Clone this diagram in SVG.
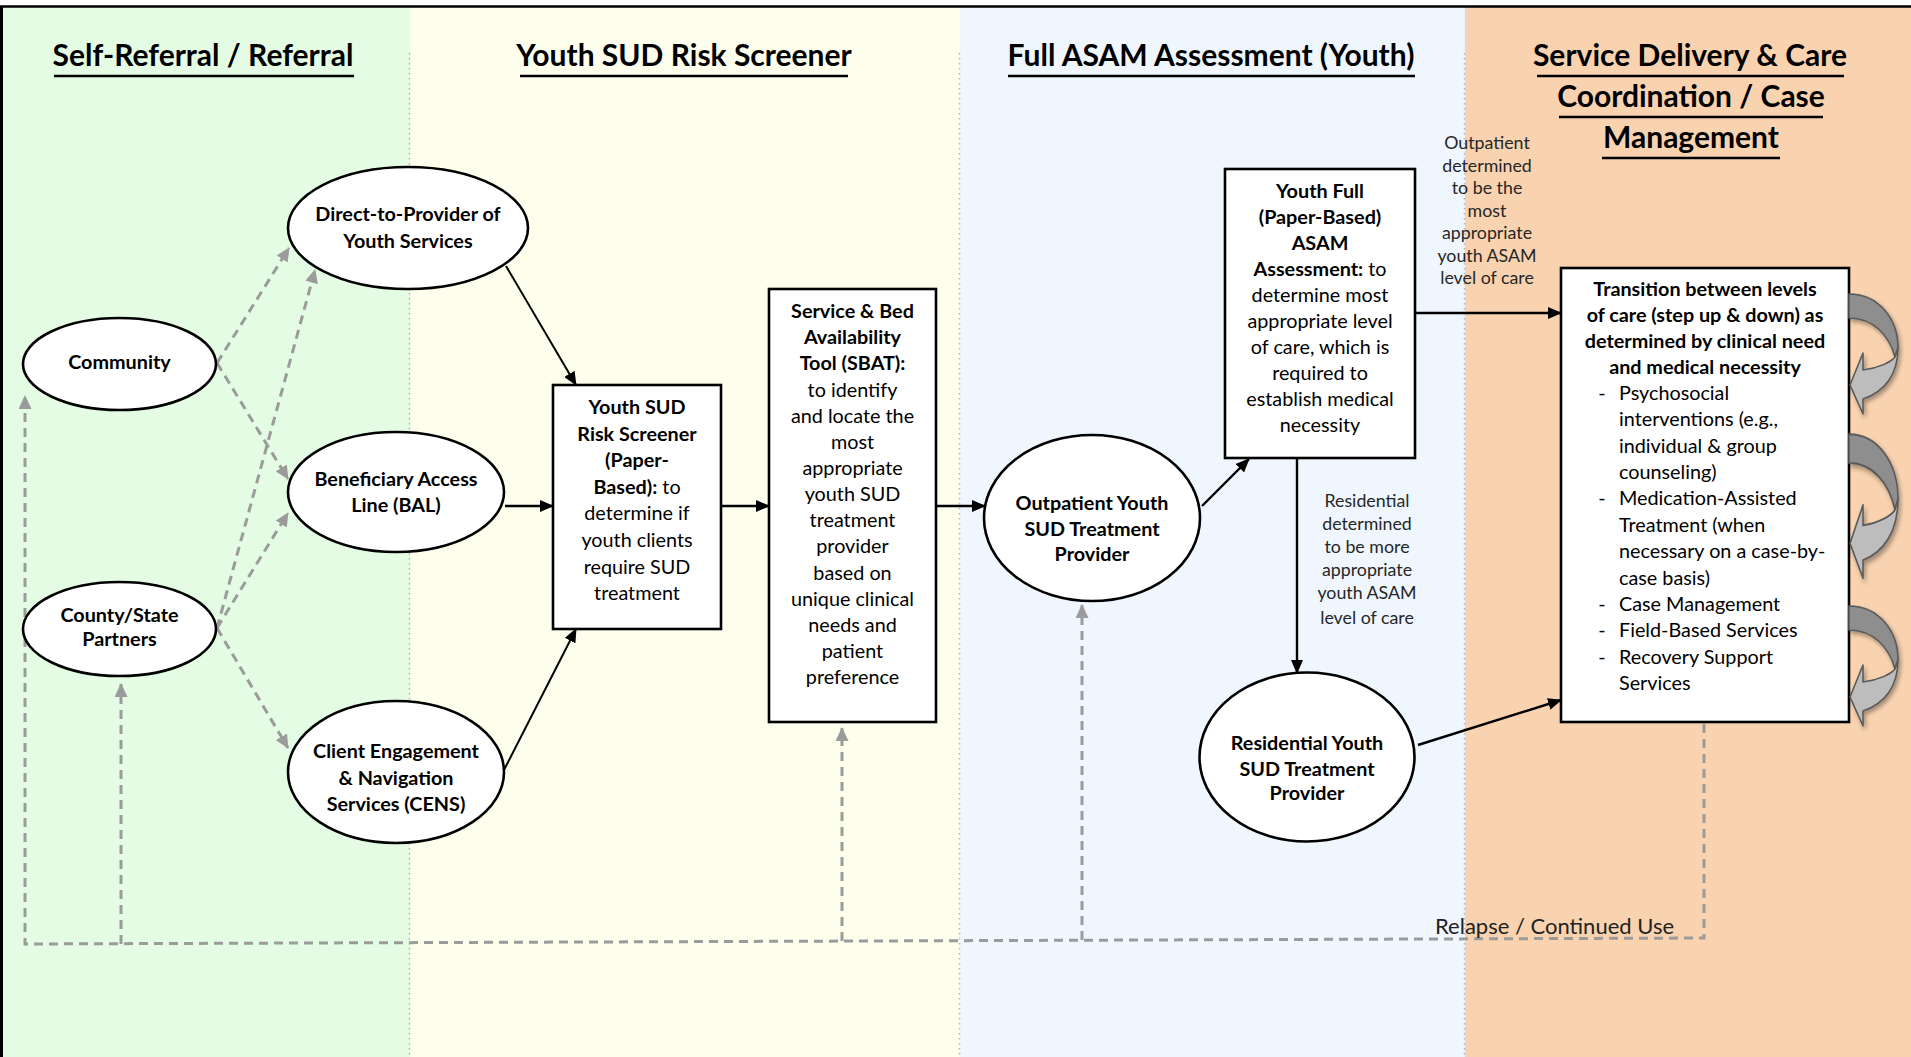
<svg xmlns="http://www.w3.org/2000/svg" width="1911" height="1057" viewBox="0 0 1911 1057">
<style>
.t{font-family:Lato,'Open Sans','DejaVu Sans',sans-serif;fill:#000;text-anchor:middle}
.h{font-size:30px;font-weight:bold}
.n{font-size:19.8px}
.b{font-weight:bold}
.s{font-size:17.8px;fill:#262626}
.l{text-anchor:start}
.node{fill:#fff;stroke:#000;stroke-width:2.6}
.ul{stroke:#000;stroke-width:2.5}
.sep{stroke:#b4b4b4;stroke-width:1.5;stroke-dasharray:1.5 3.5}
.c{fill:none;stroke:#000;stroke-width:2.4;marker-end:url(#ah)}
.d{fill:none;stroke:#9b9b9b;stroke-width:3;stroke-dasharray:9 6;marker-end:url(#ag)}
</style>
<defs>
<marker id="ah" viewBox="0 0 14 12" markerWidth="14" markerHeight="12" refX="13" refY="6" orient="auto" markerUnits="userSpaceOnUse"><path d="M0,0 L14,6 L0,12 Z" fill="#000"/></marker>
<marker id="ag" viewBox="0 0 14 13" markerWidth="14" markerHeight="13" refX="13" refY="6.5" orient="auto" markerUnits="userSpaceOnUse"><path d="M0,0 L14,6.5 L0,13 Z" fill="#9b9b9b"/></marker>
<filter id="sh" x="-30%" y="-20%" width="160%" height="150%"><feDropShadow dx="2" dy="3" stdDeviation="2" flood-color="#000" flood-opacity="0.35"/></filter>
<g id="curl" filter="url(#sh)" stroke="#5a5a5a" stroke-width="1.6" stroke-linejoin="round">
<path d="M0,1 C29,1 49,25 49,55 L46,64 C40,42 24,25 0,25 Z" fill="#8e8e8e"/>
<path d="M49,55 C49,82 35,99 14,106 L14,121 L1,92 L14,60 L14,77 C30,75 42,69 46,64 Z" fill="#bdbdbd"/>
</g>
</defs>

<g id="lanes">
<rect x="0" y="0" width="1911" height="1057" fill="#fff"/>
<rect x="0" y="7" width="410" height="1050" fill="#e3fce3"/>
<rect x="410" y="7" width="550" height="1050" fill="#fdfeec"/>
<rect x="960" y="7" width="505" height="1050" fill="#eff6fe"/>
<rect x="1465" y="7" width="446" height="1050" fill="#f9d3b0"/>
<line class="sep" x1="409.5" y1="53" x2="409.5" y2="1057"/>
<line class="sep" x1="959.5" y1="53" x2="959.5" y2="1057"/>
<line class="sep" x1="1464.5" y1="53" x2="1464.5" y2="1057"/>
<line x1="0" y1="6.5" x2="1911" y2="6.5" stroke="#000" stroke-width="2.5"/>
<line x1="1.5" y1="6" x2="1.5" y2="1057" stroke="#000" stroke-width="3"/>
</g>

<g id="headers">
<text class="t h" x="203" y="66">Self-Referral / Referral</text>
<line class="ul" x1="54" y1="76" x2="354" y2="76"/>
<text class="t h" x="684" y="66">Youth SUD Risk Screener</text>
<line class="ul" x1="520" y1="76" x2="848" y2="76"/>
<text class="t h" x="1211" y="66">Full ASAM Assessment (Youth)</text>
<line class="ul" x1="1008" y1="76" x2="1415" y2="76"/>
<text class="t h" x="1690" y="66">Service Delivery &amp; Care</text>
<line class="ul" x1="1537" y1="76" x2="1844" y2="76"/>
<text class="t h" x="1691" y="107">Coordination / Case</text>
<line class="ul" x1="1559" y1="117" x2="1823" y2="117"/>
<text class="t h" x="1691" y="148">Management</text>
<line class="ul" x1="1602" y1="158" x2="1780" y2="158"/>
</g>

<g id="connectors">
<path class="d" d="M217,363 L289,248"/>
<path class="d" d="M217,363 L288,479"/>
<path class="d" d="M217,628 L315,270"/>
<path class="d" d="M217,628 L288,513"/>
<path class="d" d="M217,628 L288,748"/>
<path class="d" d="M1704,724 L1704,938 L25,944 L25,396"/>
<path class="d" d="M121,944 L121,684"/>
<path class="d" d="M842,941 L842,728"/>
<path class="d" d="M1082,940 L1082,605"/>
<path class="c" style="stroke-width:2" d="M506,266 L576,385"/>
<path class="c" d="M505,506 L553,506"/>
<path class="c" style="stroke-width:2" d="M504,770 L576,629"/>
<path class="c" d="M721,506 L769,506"/>
<path class="c" d="M936,506 L985,506"/>
<path class="c" d="M1202,506 L1249,459"/>
<path class="c" d="M1416,313 L1561,313"/>
<path class="c" d="M1297,458 L1297,673"/>
<path class="c" d="M1418,745 L1561,700"/>
</g>

<g id="community">
<ellipse class="node" cx="119.5" cy="364" rx="96.5" ry="46"/>
<text class="t n b" x="119.5" y="369">Community</text>
</g>
<g id="county">
<ellipse class="node" cx="119.5" cy="629" rx="96.5" ry="47"/>
<text class="t n b" x="119.5" y="622">County/State</text>
<text class="t n b" x="119.5" y="646">Partners</text>
</g>
<g id="direct">
<ellipse class="node" cx="408" cy="228" rx="120" ry="61"/>
<text class="t n b" x="408" y="221">Direct-to-Provider of</text>
<text class="t n b" x="408" y="248">Youth Services</text>
</g>
<g id="bal">
<ellipse class="node" cx="396" cy="492" rx="108" ry="60"/>
<text class="t n b" x="396" y="486">Beneficiary Access</text>
<text class="t n b" x="396" y="512">Line (BAL)</text>
</g>
<g id="cens">
<ellipse class="node" cx="396" cy="772" rx="108" ry="71"/>
<text class="t n b" x="396" y="758">Client Engagement</text>
<text class="t n b" x="396" y="785">&amp; Navigation</text>
<text class="t n b" x="396" y="811">Services (CENS)</text>
</g>
<g id="screener">
<rect class="node" x="553" y="385" width="168" height="244"/>
<text class="t n" x="637" y="414"><tspan class="b">Youth SUD</tspan></text>
<text class="t n" x="637" y="440.6"><tspan class="b">Risk Screener</tspan></text>
<text class="t n" x="637" y="467.2"><tspan class="b">(Paper-</tspan></text>
<text class="t n" x="637" y="493.8"><tspan class="b">Based):</tspan> to</text>
<text class="t n" x="637" y="520.4">determine if</text>
<text class="t n" x="637" y="547">youth clients</text>
<text class="t n" x="637" y="573.6">require SUD</text>
<text class="t n" x="637" y="600.2">treatment</text>
</g>
<g id="sbat">
<rect class="node" x="769" y="289" width="167" height="433"/>
<text class="t n b" x="852.5" y="318">Service &amp; Bed</text>
<text class="t n b" x="852.5" y="344.2">Availability</text>
<text class="t n b" x="852.5" y="370.3">Tool (SBAT):</text>
<text class="t n" x="852.5" y="396.5">to identify</text>
<text class="t n" x="852.5" y="422.6">and locate the</text>
<text class="t n" x="852.5" y="448.8">most</text>
<text class="t n" x="852.5" y="474.9">appropriate</text>
<text class="t n" x="852.5" y="501">youth SUD</text>
<text class="t n" x="852.5" y="527.2">treatment</text>
<text class="t n" x="852.5" y="553.4">provider</text>
<text class="t n" x="852.5" y="579.5">based on</text>
<text class="t n" x="852.5" y="605.6">unique clinical</text>
<text class="t n" x="852.5" y="631.8">needs and</text>
<text class="t n" x="852.5" y="658">patient</text>
<text class="t n" x="852.5" y="684">preference</text>
</g>
<g id="outpatient">
<ellipse class="node" cx="1092" cy="518" rx="108" ry="83"/>
<text class="t n b" x="1092" y="510">Outpatient Youth</text>
<text class="t n b" x="1092" y="535.5">SUD Treatment</text>
<text class="t n b" x="1092" y="561">Provider</text>
</g>
<g id="asam">
<rect class="node" x="1225" y="169" width="190" height="289"/>
<text class="t n b" x="1320" y="198">Youth Full</text>
<text class="t n b" x="1320" y="224">(Paper-Based)</text>
<text class="t n b" x="1320" y="250">ASAM</text>
<text class="t n" x="1320" y="276"><tspan class="b">Assessment:</tspan> to</text>
<text class="t n" x="1320" y="302">determine most</text>
<text class="t n" x="1320" y="328">appropriate level</text>
<text class="t n" x="1320" y="354">of care, which is</text>
<text class="t n" x="1320" y="380">required to</text>
<text class="t n" x="1320" y="406">establish medical</text>
<text class="t n" x="1320" y="432">necessity</text>
</g>
<g id="residential">
<ellipse class="node" cx="1307" cy="757" rx="107.5" ry="84.5"/>
<text class="t n b" x="1307" y="750">Residential Youth</text>
<text class="t n b" x="1307" y="776">SUD Treatment</text>
<text class="t n b" x="1307" y="800">Provider</text>
</g>
<g id="transition">
<rect class="node" x="1561" y="268" width="288" height="454"/>
<text class="t n b" x="1705" y="296">Transition between levels</text>
<text class="t n b" x="1705" y="322">of care (step up &amp; down) as</text>
<text class="t n b" x="1705" y="348">determined by clinical need</text>
<text class="t n b" x="1705" y="374">and medical necessity</text>
<text class="t n" x="1602" y="400">-</text><text class="t n l" x="1619" y="400">Psychosocial</text>
<text class="t n l" x="1619" y="426.4">interventions (e.g.,</text>
<text class="t n l" x="1619" y="452.7">individual &amp; group</text>
<text class="t n l" x="1619" y="479">counseling)</text>
<text class="t n" x="1602" y="505.4">-</text><text class="t n l" x="1619" y="505.4">Medication-Assisted</text>
<text class="t n l" x="1619" y="531.8">Treatment (when</text>
<text class="t n l" x="1619" y="558">necessary on a case-by-</text>
<text class="t n l" x="1619" y="584.5">case basis)</text>
<text class="t n" x="1602" y="610.8">-</text><text class="t n l" x="1619" y="610.8">Case Management</text>
<text class="t n" x="1602" y="637">-</text><text class="t n l" x="1619" y="637">Field-Based Services</text>
<text class="t n" x="1602" y="663.5">-</text><text class="t n l" x="1619" y="663.5">Recovery Support</text>
<text class="t n l" x="1619" y="690">Services</text>
</g>
<g id="loops">
<use href="#curl" transform="translate(1849,293)"/>
<use href="#curl" transform="translate(1849,433) scale(1,1.2)"/>
<use href="#curl" transform="translate(1849,605)"/>
</g>
<g id="labels">
<text class="t s" x="1487" y="149">Outpatient</text>
<text class="t s" x="1487" y="171.5">determined</text>
<text class="t s" x="1487" y="194">to be the</text>
<text class="t s" x="1487" y="216.5">most</text>
<text class="t s" x="1487" y="239">appropriate</text>
<text class="t s" x="1487" y="261.5">youth ASAM</text>
<text class="t s" x="1487" y="284">level of care</text>
<text class="t s" x="1367" y="507">Residential</text>
<text class="t s" x="1367" y="530">determined</text>
<text class="t s" x="1367" y="553">to be more</text>
<text class="t s" x="1367" y="576">appropriate</text>
<text class="t s" x="1367" y="599">youth ASAM</text>
<text class="t s" x="1367" y="624">level of care</text>
<text class="t l" style="font-size:22px;fill:#222" x="1435" y="934">Relapse / Continued Use</text>
</g>
</svg>
